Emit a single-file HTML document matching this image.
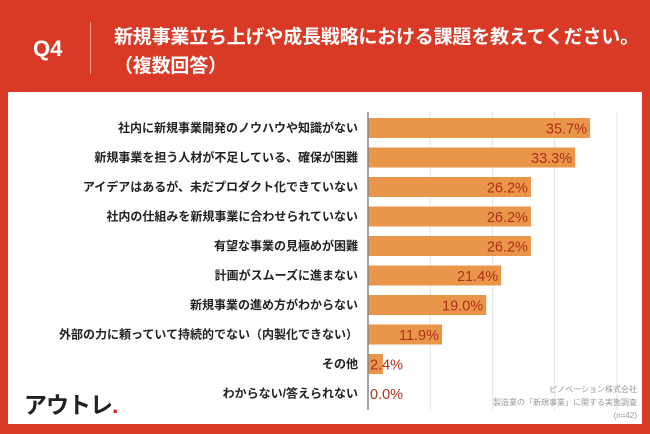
<!DOCTYPE html>
<html><head><meta charset="utf-8"><style>
body{margin:0;width:650px;height:434px;background:#d93a26;position:relative;overflow:hidden;font-family:"Liberation Sans","Noto Sans CJK JP",sans-serif}
.abs{position:absolute}
</style></head><body>
<div class="abs" style="left:33px;top:36px;color:#fff;font-weight:bold;font-size:22px">Q4</div>
<div class="abs" style="left:90px;top:22px;width:1px;height:52px;background:#f0a090"></div>
<div class="abs" style="left:114px;top:23px;color:#fff;font-weight:bold;font-size:19px;line-height:29px;white-space:nowrap;letter-spacing:-0.2px">新規事業立ち上げや成長戦略における課題を教えてください。<br>（複数回答）</div>
<div class="abs" style="left:8px;top:92px;width:634px;height:332px;background:#fff"></div>
<svg class="abs" style="left:0;top:0" width="650" height="434" id="chart"></svg>
<div class="abs" style="left:24px;top:386px;font-size:23px;font-weight:bold;color:#222;letter-spacing:-1px">アウトレ<span style="color:#e0201a">.</span></div>
<div class="abs" style="right:13px;top:383px;font-size:8px;color:#999;text-align:right;line-height:13px">ピノベーション株式会社<br>製造業の「新規事業」に関する実態調査<br>(n=42)</div>
<script>
const categories=["社内に新規事業開発のノウハウや知識がない","新規事業を担う人材が不足している、確保が困難","アイデアはあるが、未だプロダクト化できていない","社内の仕組みを新規事業に合わせられていない","有望な事業の見極めが困難","計画がスムーズに進まない","新規事業の進め方がわからない","外部の力に頼っていて持続的でない（内製化できない）","その他","わからない/答えられない"];
const values=[35.7,33.3,26.2,26.2,26.2,21.4,19.0,11.9,2.4,0.0];
const ticks=[0,10,20,30,40];
const svg=document.getElementById('chart');
const NS='http://www.w3.org/2000/svg';
const x0=368,pxPer=6.22,y0=128,step=29.5,bh=20;
const xs=v=>x0+v*pxPer;
const ys=i=>y0+i*step;
function mk(t,a){const e=document.createElementNS(NS,t);for(const k in a)e.setAttribute(k,a[k]);svg.appendChild(e);return e;}
ticks.forEach(t=>{if(t===0)return;const g=mk('line',{x1:xs(t),x2:xs(t),y1:112,y2:410,stroke:'#e4e4e4','stroke-width':1});

});
categories.forEach((c,i)=>{
const r=mk('rect',{x:x0,y:ys(i)-bh/2,width:Math.max(0,xs(values[i])-x0),height:bh,fill:'#e9954a'});


const l=mk('text',{x:358,y:ys(i)+4,'text-anchor':'end','font-size':'12','font-weight':'bold',fill:'#222'});l.textContent=c;


const w=xs(values[i])-x0;const big=w>45;
const v=mk('text',{x:big?xs(values[i])-3:x0+2,y:ys(i)+5.5,'text-anchor':big?'end':'start','font-size':'14.5',fill:'#b0301c'});v.textContent=values[i].toFixed(1)+'%';


});
const ax=mk('line',{x1:x0,x2:x0,y1:112,y2:410,stroke:'#888','stroke-width':1.5});


</script>
</body></html>
